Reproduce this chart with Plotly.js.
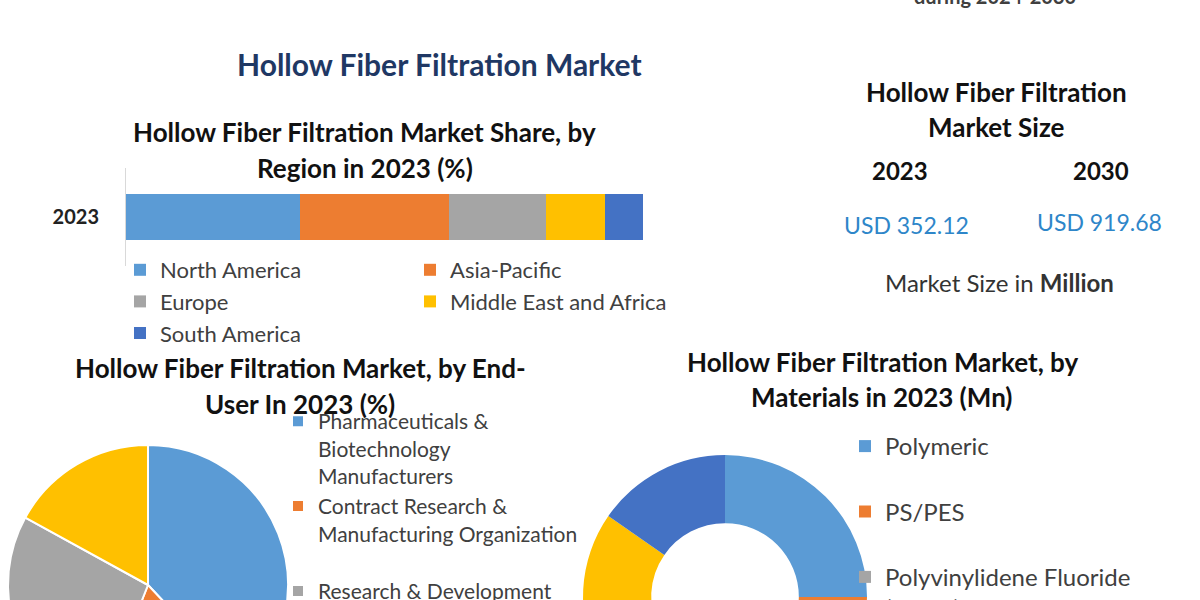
<!DOCTYPE html>
<html>
<head>
<meta charset="utf-8">
<script src="https://cdn.plot.ly/plotly-3.0.1.min.js"></script>
<style>
  html, body { margin: 0; padding: 0; background: #fff; overflow: hidden; }
  #chart { width: 1200px; height: 800px; }
</style>
</head>
<body>
<div id="chart"></div>
<script>
// Datos del gráfico
const regionYears = ['2023'];
const regions = ['North America', 'Asia-Pacific', 'Europe', 'Middle East and Africa', 'South America'];
const regionShare = [33.7, 28.8, 18.7, 11.4, 7.4];

const endUsers = [
  'Pharmaceuticals &<br>Biotechnology<br>Manufacturers',
  'Contract Research &<br>Manufacturing Organization',
  'Research & Development',
  'Academic & Research Institutes'
];
const endUserShare = [38, 18, 27, 17];

const materials = ['Polymeric', 'PS/PES', 'Polyvinylidene Fluoride<br>(PVDF)', 'Ceramic', 'Others'];
const materialValue = [88, 78, 70, 62, 54];

const sizeYears = ['2023', '2030'];
const sizeValues = ['USD 352.12', 'USD 919.68'];

// Estilos
const palette = ['#5B9BD5', '#ED7D31', '#A5A5A5', '#FFC000', '#4472C4'];
const W = 1200, H = 800;
const FONT = 'Lato, "Open Sans", sans-serif';
const px = x => x / W;
const py = y => 1 - y / H;

// Barras apiladas por región (dos columnas de leyenda)
const barTraces = regions.map((r, i) => ({
  type: 'bar',
  orientation: 'h',
  name: r,
  y: regionYears,
  x: [regionShare[i]],
  marker: { color: palette[i] },
  width: 0.46,
  legend: i % 2 === 0 ? 'legend' : 'legend2',
  hoverinfo: 'name+x'
}));

const piePie = {
  type: 'pie',
  labels: endUsers.map((l, i) => i === 1 ? l + '<br> ' : l),
  values: endUserShare,
  sort: false,
  direction: 'clockwise',
  rotation: 0,
  textinfo: 'none',
  marker: { colors: palette.slice(0, 4), line: { color: '#ffffff', width: 2 } },
  domain: { x: [px(8), px(288)], y: [py(725), py(445)] },
  legend: 'legend3'
};

const donut = {
  type: 'pie',
  labels: materials.map(l => l.includes('<br>') ? l : l + '<br> '),
  values: materialValue,
  hole: 0.52,
  sort: false,
  direction: 'clockwise',
  rotation: 0,
  textinfo: 'none',
  marker: { colors: palette, line: { width: 0 } },
  domain: { x: [px(583), px(867)], y: [py(739), py(455)] },
  legend: 'legend4'
};

const legendBase = {
  bgcolor: 'rgba(0,0,0,0)',
  font: { family: FONT, size: 22, color: '#404040' },
  xanchor: 'left',
  yanchor: 'top',
  orientation: 'v',
  traceorder: 'normal',
  valign: 'top'
};

const label = (text, x, y, size, color, isBold) => ({
  text: isBold === false ? text : '<b>' + text + '</b>',
  x: px(x), y: py(y), xref: 'paper', yref: 'paper',
  showarrow: false, xanchor: 'center', yanchor: 'middle',
  font: { family: FONT, size: size, color: color || '#111111' }
});

const annotations = [
  label('during 2024-2030', 995, -4, 20, '#404040'),
  label('Hollow Fiber Filtration Market', 440, 64, 30, '#1F3864'),
  label('Hollow Fiber Filtration Market Share, by', 365, 132, 26),
  label('Region in 2023 (%)', 365, 168, 26),
  label('Hollow Fiber Filtration', 996, 92, 26),
  label('Market Size', 996, 127, 26),
  label(sizeYears[0], 900, 170, 24),
  label(sizeYears[1], 1101, 170, 24),
  label(sizeValues[0], 906, 225, 23, '#2E86C9', false),
  label(sizeValues[1], 1099, 222, 23, '#2E86C9', false),
  label('Market Size in <b>Million</b>', 999, 282, 24, '#333333', false),
  label('Hollow Fiber Filtration Market, by End-', 300, 368, 26),
  label('User In 2023 (%)', 300, 404, 26),
  label('Hollow Fiber Filtration Market, by', 882, 362, 26),
  label('Materials in 2023 (Mn)', 882, 397, 26)
];

const layout = {
  width: W,
  height: H,
  margin: { l: 0, r: 0, t: 0, b: 0 },
  paper_bgcolor: '#ffffff',
  plot_bgcolor: 'rgba(0,0,0,0)',
  barmode: 'stack',
  showlegend: true,
  xaxis: {
    domain: [px(126), px(643)],
    range: [0, 100],
    visible: false,
    fixedrange: true
  },
  yaxis: {
    domain: [py(266), py(168)],
    type: 'category',
    showline: true,
    linecolor: '#D9D9D9',
    linewidth: 1,
    ticks: '',
    showgrid: false,
    zeroline: false,
    ticklabelstandoff: 22,
    tickfont: { family: FONT, size: 20, color: '#222222', weight: 'bold' },
    fixedrange: true
  },
  legend: Object.assign({}, legendBase, { x: px(120), y: py(249) }),
  legend2: Object.assign({}, legendBase, { x: px(410), y: py(249) }),
  legend3: Object.assign({}, legendBase, { x: px(278), y: py(401), font: { family: FONT, size: 21, color: '#404040' } }),
  legend4: Object.assign({}, legendBase, { x: px(845), y: py(424), font: { family: FONT, size: 24, color: '#404040' } }),
  annotations: annotations
};

Plotly.newPlot('chart', [...barTraces, piePie, donut], layout, { staticPlot: true, displayModeBar: false });
</script>
</body>
</html>
